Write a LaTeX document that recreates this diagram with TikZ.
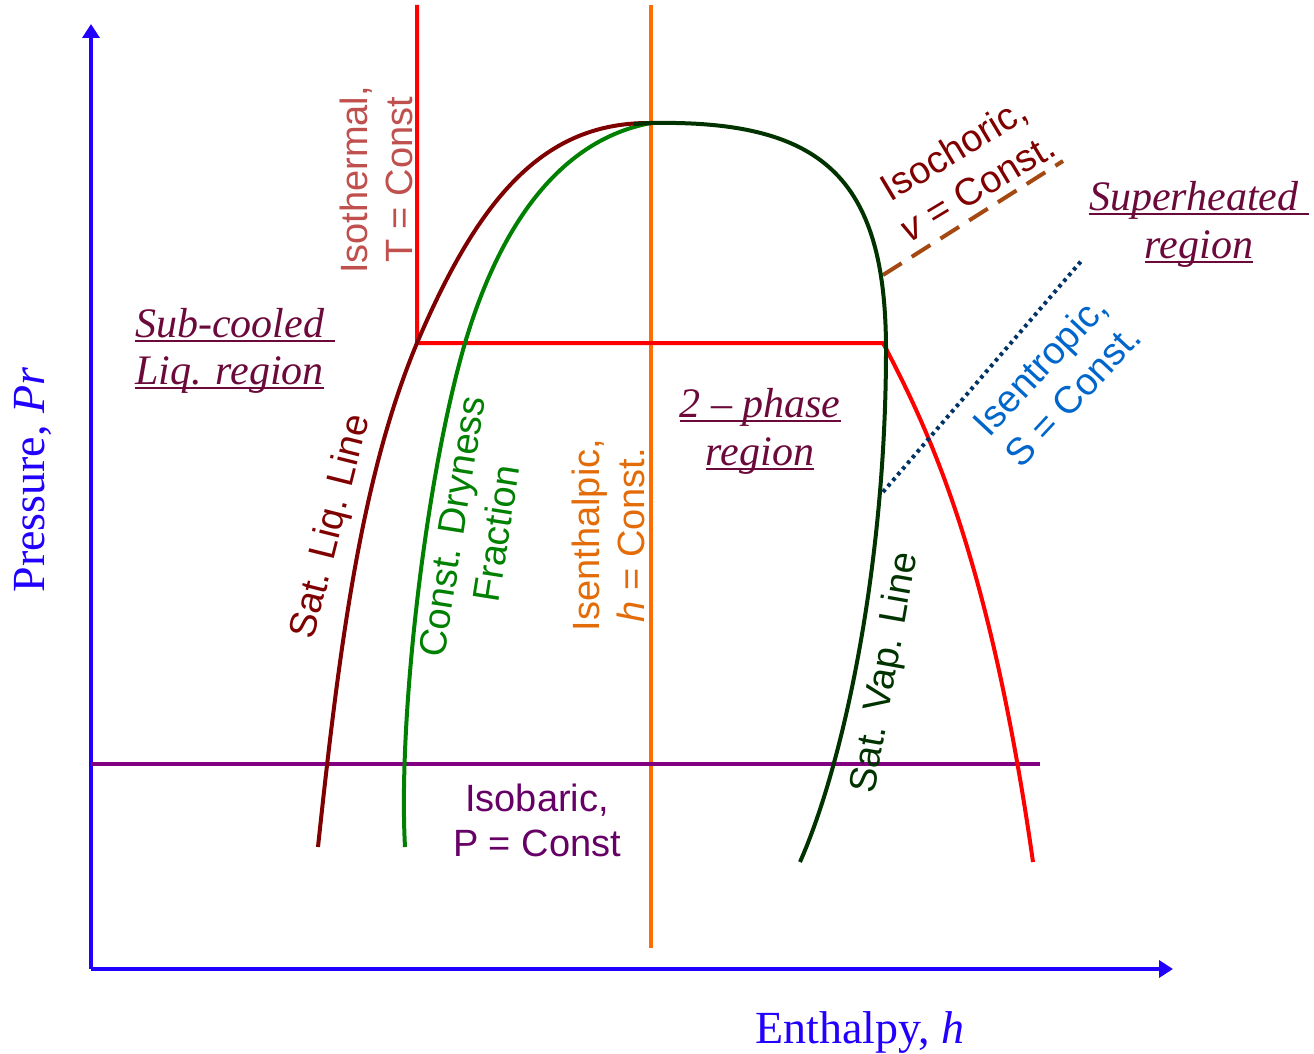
\documentclass[tikz,border=0pt]{standalone}
\usepackage{fontspec}
\setmainfont{Liberation Serif}
\newfontfamily\lsans{Liberation Sans}
\usetikzlibrary{arrows.meta}
\definecolor{axisblue}{RGB}{34,0,255}
\definecolor{satliq}{RGB}{127,0,0}
\definecolor{domegreen}{RGB}{0,51,0}
\definecolor{dryg}{RGB}{0,128,0}
\definecolor{isoorange}{RGB}{255,110,0}
\definecolor{isoorangetxt}{RGB}{227,108,9}
\definecolor{isopurple}{RGB}{128,0,128}
\definecolor{isopurpletxt}{RGB}{102,0,102}
\definecolor{isochor}{RGB}{163,73,17}
\definecolor{isochortxt}{RGB}{128,0,0}
\definecolor{isentr}{RGB}{0,51,102}
\definecolor{isentrtxt}{RGB}{0,102,204}
\definecolor{isothtxt}{RGB}{192,80,77}
\definecolor{regcol}{RGB}{107,10,58}
\newcommand\myul[1]{\setbox0\hbox{#1}\rlap{\rule[-5pt]{\wd0}{2.5pt}}\box0}
\tikzset{
  lbl/.style={font=\lsans\fontsize{38}{45}\selectfont, align=center, inner sep=0pt},
  region/.style={font=\fontsize{42}{48}\selectfont\itshape, text=regcol, inner sep=0pt},
  curve/.style={line width=4pt, line join=round},
  axislbl/.style={font=\fontsize{46}{50}\selectfont, text=axisblue, inner sep=0pt}
}
\begin{document}
\begin{tikzpicture}[x=1pt,y=-1pt]
\useasboundingbox (0,0) rectangle (1314,1054);
% axes
\coordinate (O) at (91,969);
\coordinate (ytip) at (91,24);
\coordinate (xtip) at (1173,969);
\draw[line width=4.5pt, axisblue, -{Triangle[length=14pt,width=17pt]}] (O) -- (ytip);
\draw[line width=4.5pt, axisblue, -{Triangle[length=14pt,width=17pt]}] (O) -- (xtip);
% isenthalpic
\coordinate (hTop) at (651,5);
\coordinate (hBot) at (651,948);
\draw[curve, isoorange] (hTop) -- (hBot);
% isobaric
\coordinate (pL) at (91,764);
\coordinate (pR) at (1040,764);
\draw[curve, isopurple] (pL) -- (pR);
% isothermal
\coordinate (tTop) at (417,5);
\coordinate (tL) at (417,343);
\coordinate (tR) at (883,343);
\coordinate (tEnd) at (1033,862);
\draw[curve, red] (tTop) -- (tL) -- (tR) .. controls (930,432) and (990,560) .. (tEnd);
% isochoric
\coordinate (vA) at (883,275);
\coordinate (vB) at (1063,161);
\draw[line width=4pt, isochor, dash pattern=on 22pt off 12pt] (vA) -- (vB);
% isentropic
\coordinate (sA) at (883,492);
\coordinate (sB) at (1083,259);
\draw[line width=4pt, isentr, dash pattern=on 3.5pt off 4pt] (sA) -- (sB);
% critical point
\coordinate (crit) at (651,123);
% dryness fraction line
\coordinate (gBot) at (405,847);
\coordinate (gMid) at (465,343);
\draw[curve, dryg] (gBot) .. controls (398,720) and (425,480) .. (gMid)
  .. controls (500,225) and (560,140) .. (crit);
% sat liq line
\coordinate (lBot) at (318,847);
\draw[curve, satliq] (lBot) .. controls (340,640) and (362,475) .. (tL)
  .. controls (480,195) and (545,122) .. (crit);
% sat vap line (dome)
\coordinate (dMid) at (886,350);
\coordinate (dBot) at (800,862);
\draw[curve, domegreen] (634,124) -- (crit) .. controls (820,120) and (886,175) .. (dMid)
  .. controls (886,560) and (845,760) .. (dBot);
% labels
\node[axislbl, rotate=90] (pres) at (33,480) {Pressure, \textit{Pr}};
\node[axislbl, anchor=base] (enth) at (860,1043) {Enthalpy, \textit{h}};
\node[lbl, text=isothtxt, rotate=90] (isoth) at (376,180) {Isothermal,\\T = Const};
\node[lbl, text=isoorangetxt, rotate=90] (isenth) at (608,535) {Isenthalpic,\\\textit{h} = Const.};
\node[lbl, text=dryg, rotate=81] (dry) at (474,530) {Const. Dryness\\Fraction};
\node[lbl, text=satliq, rotate=76] (sliq) at (332,527) {Sat. Liq. Line};
\node[lbl, text=domegreen, rotate=80] (svap) at (886,673) {Sat. Vap. Line};
\node[lbl, text=isochortxt, rotate=31] (isoch) at (965,168) {Isochoric,\\\textit{v} = Const.};
\node[lbl, text=isentrtxt, rotate=47] (isent) at (1056,380) {Isentropic,\\S = Const.};
\node[lbl, text=isopurpletxt] (isob) at (537,820) {Isobaric,\\P = Const};
\node[region, anchor=base west] (subc) at (135,337) {\myul{Sub-cooled\ }};
\node[region, anchor=base west] (subc2) at (135,384) {\myul{Liq. region}};
\node[region, anchor=base] (sup) at (1199,210) {\myul{Superheated\ }};
\node[region, anchor=base] (sup2) at (1199,258) {\myul{region}};
\node[region, anchor=base] (two) at (760,417) {\myul{2 -- phase}};
\node[region, anchor=base] (two2) at (760,465) {\myul{region}};
\end{tikzpicture}
\end{document}
